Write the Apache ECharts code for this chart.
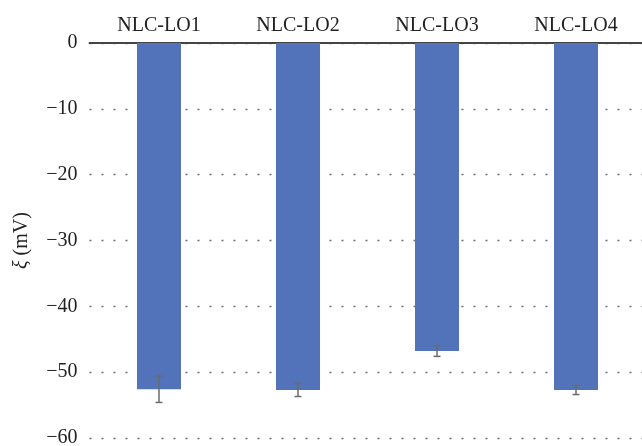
<!DOCTYPE html>
<html>
<head>
<meta charset="UTF-8">
<title>Zeta potential</title>
<script src="https://cdn.jsdelivr.net/npm/echarts@6/dist/echarts.min.js"></script>
<style>
  body { margin: 0; }
  #chart { width: 642px; height: 446px; }
</style>
</head>
<body>
<div id="chart"></div>
<script>
var categories = ['NLC-LO1', 'NLC-LO2', 'NLC-LO3', 'NLC-LO4'];
var zeta = [-52.6, -52.7, -46.8, -52.7];
var zetaErr = [2.0, 1.0, 0.8, 0.7];
var yTicks = [0, -10, -20, -30, -40, -50, -60];

var chart = echarts.init(document.getElementById('chart'), null, { renderer: 'canvas' });
var serif = '"Liberation Serif", "DejaVu Serif", serif';

var option = {
    animation: false,
    grid: { left: 89.5, width: 556, top: 43, bottom: 8, outerBoundsMode: 'none', containLabel: false },
    xAxis: {
        type: 'category',
        position: 'top',
        data: categories,
        axisTick: { show: false },
        axisLine: { lineStyle: { color: '#444', width: 2 } },
        axisLabel: { fontFamily: serif, fontSize: 20, color: '#222', margin: 7 }
    },
    yAxis: {
        type: 'value',
        min: -60,
        max: 0,
        interval: 10,
        axisLine: { show: false },
        axisTick: { show: false },
        axisLabel: {
            fontFamily: serif, fontSize: 20, color: '#222', margin: 12,
            formatter: function (v) { return v < 0 ? '\u2212' + (-v) : String(v); }
        },
        splitLine: { lineStyle: { color: '#6e6e6e', type: [2, 10], width: 1.3 } },
        name: '{i|\u03be} (mV)',
        nameLocation: 'middle',
        nameGap: 58,
        nameTextStyle: {
            fontFamily: serif, fontSize: 20, color: '#222',
            rich: { i: { fontFamily: serif, fontSize: 20, fontStyle: 'italic', color: '#222' } }
        }
    },
    series: [
        {
            type: 'bar',
            data: zeta,
            barWidth: 44,
            itemStyle: { color: '#5273BA' },
            z: 2
        },
        {
            type: 'custom',
            z: 3,
            data: zeta.map(function (v, i) { return [i, v - zetaErr[i], v + zetaErr[i]]; }),
            renderItem: function (params, api) {
                var lo = api.coord([api.value(0), api.value(1)]);
                var hi = api.coord([api.value(0), api.value(2)]);
                var x = lo[0], w = 3.5;
                var st = { stroke: '#6b6b6b', lineWidth: 1.5 };
                return {
                    type: 'group',
                    children: [
                        { type: 'line', shape: { x1: x, y1: lo[1], x2: x, y2: hi[1] }, style: st },
                        { type: 'line', shape: { x1: x - w, y1: lo[1], x2: x + w, y2: lo[1] }, style: st },
                        { type: 'line', shape: { x1: x - w, y1: hi[1], x2: x + w, y2: hi[1] }, style: st }
                    ]
                };
            }
        }
    ]
};

chart.setOption(option);
</script>
</body>
</html>
